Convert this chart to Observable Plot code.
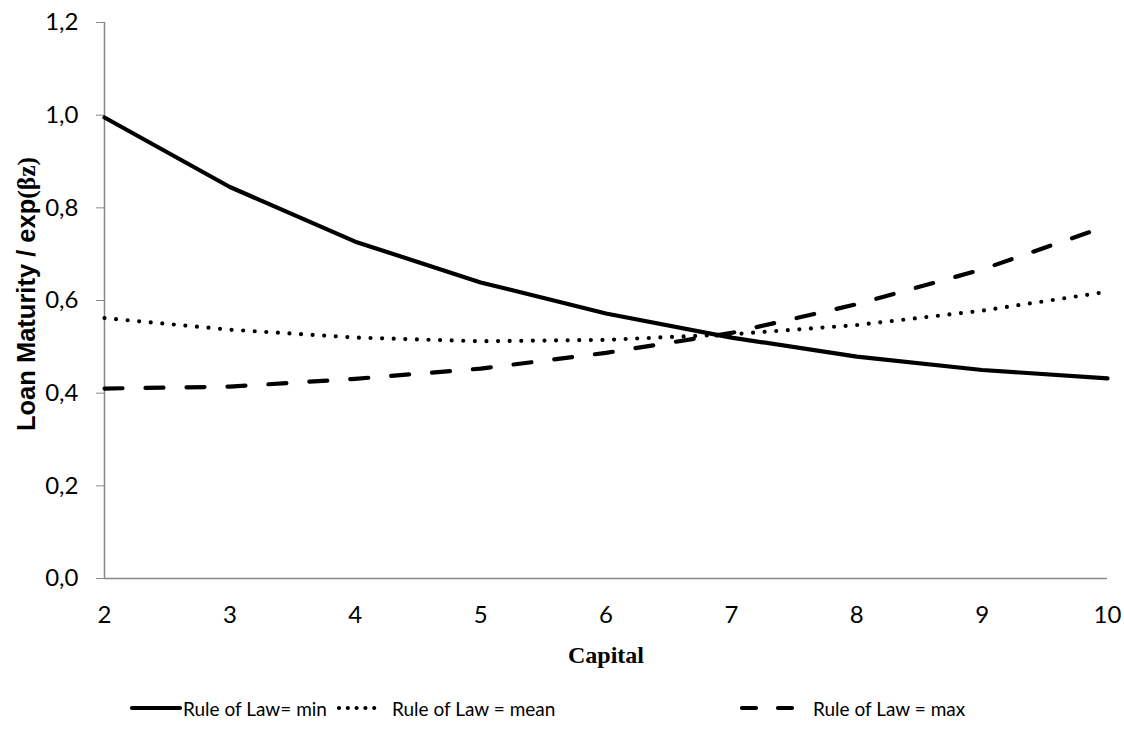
<!DOCTYPE html>
<html>
<head>
<meta charset="utf-8">
<script src="https://cdn.jsdelivr.net/npm/d3@7"></script>
<script src="https://cdn.jsdelivr.net/npm/@observablehq/plot@0.6"></script>
<style>
  html, body { margin: 0; padding: 0; background: #fff; }
  #wrap { position: relative; width: 1124px; height: 736px; overflow: hidden; }
  #chart { position: absolute; left: 0; top: 0; }
  #chart svg text { font-size: 24px !important; font-family: Lato, "Open Sans", sans-serif !important; fill: #000; }
  .ylab { position: absolute; left: 27px; top: 294px; transform: translate(-50%, -50%) rotate(-90deg);
          white-space: nowrap; font-family: "Liberation Sans", Arial, sans-serif; font-weight: bold; font-size: 25.5px; color: #000; }
  .ylab .s { font-family: "Liberation Serif", "Times New Roman", serif; }
  .xlab { position: absolute; left: 606px; top: 655px; transform: translate(-50%, -50%);
          font-family: "Liberation Serif", "Times New Roman", serif; font-weight: bold; font-size: 24px; color: #000; }
  .leg { position: absolute; top: 708px; transform: translateY(-50%); font-family: Lato, "Open Sans", sans-serif; font-size: 19px; white-space: nowrap; color: #000; }
  .legsw { position: absolute; top: 700px; }
</style>
</head>
<body>
<div id="wrap">
  <div id="chart"></div>
  <div class="ylab">Loan Maturity / exp<span class="s">(βz)</span></div>
  <div class="xlab">Capital</div>
</div>
<script>
const capital = [2, 3, 4, 5, 6, 7, 8, 9, 10];
const ruleMin  = [0.995, 0.845, 0.727, 0.639, 0.572, 0.520, 0.479, 0.450, 0.432];
const ruleMean = [0.562, 0.537, 0.520, 0.512, 0.515, 0.527, 0.547, 0.578, 0.619];
const ruleMax  = [0.410, 0.414, 0.431, 0.453, 0.487, 0.530, 0.592, 0.667, 0.761];
const seriesNames = ["Rule of Law= min", "Rule of Law = mean", "Rule of Law = max"];
const yTicks = [0, 0.2, 0.4, 0.6, 0.8, 1.0, 1.2];
const xTicks = [2, 3, 4, 5, 6, 7, 8, 9, 10];

const dashes = [null, "0,11.6", "18,23"];
const legendDashes = [null, "0,8.8", "14,22"];
const allSeries = [ruleMin, ruleMean, ruleMax];
const rows = [];
allSeries.forEach((vals, si) => vals.forEach((v, i) => rows.push({x: capital[i], y: v, s: seriesNames[si]})));

const fmt = d => d.toFixed(1).replace(".", ",");
const tickFont = 'Lato, "Open Sans", sans-serif';

const lineMarks = seriesNames.map((name, si) => Plot.line(rows.filter(r => r.s === name), {
  x: "x", y: "y", stroke: "#000", strokeWidth: 4.2, strokeLinecap: "round", strokeLinejoin: "round",
  strokeDasharray: dashes[si] || undefined
}));

const chart = Plot.plot({
  width: 1124,
  height: 660,
  marginLeft: 104,
  marginRight: 17,
  marginTop: 22,
  marginBottom: 82,
  style: {fontFamily: tickFont, fontSize: "24px", color: "#000", background: "#fff"},
  x: {domain: [2, 10]},
  y: {domain: [0, 1.2]},
  marks: [
    Plot.axisY({ticks: yTicks, tickFormat: fmt, tickSize: 8, tickPadding: 18, stroke: "#888", label: null, fontSize: 24}),
    Plot.axisX({ticks: xTicks, tickFormat: d => String(d), tickSize: 0, tickPadding: 27, label: null, fontSize: 24}),
    Plot.ruleY([0], {stroke: "#888", strokeWidth: 1.5}),
    Plot.ruleX([2], {stroke: "#888", strokeWidth: 1.5}),
    ...lineMarks
  ]
});
document.getElementById("chart").appendChild(chart);

// legend
const wrap = document.getElementById("wrap");
const legPos = [
  {x1: 132, x2: 180, tx: 183},
  {x1: 339, x2: 383, tx: 392},
  {x1: 742, x2: 797, tx: 813}
];
seriesNames.forEach((name, si) => {
  const p = legPos[si];
  const svg = d3.create("svg").attr("class", "legsw").attr("width", p.x2 - p.x1 + 8).attr("height", 16)
    .style("left", (p.x1 - 4) + "px");
  svg.append("line").attr("x1", 4).attr("x2", p.x2 - p.x1 + 4).attr("y1", 8).attr("y2", 8)
    .attr("stroke", "#000").attr("stroke-width", 4.2).attr("stroke-linecap", "round")
    .attr("stroke-dasharray", legendDashes[si]);
  wrap.appendChild(svg.node());
  const t = document.createElement("div");
  t.className = "leg";
  t.style.left = p.tx + "px";
  t.textContent = name;
  wrap.appendChild(t);
});
</script>
</body>
</html>
